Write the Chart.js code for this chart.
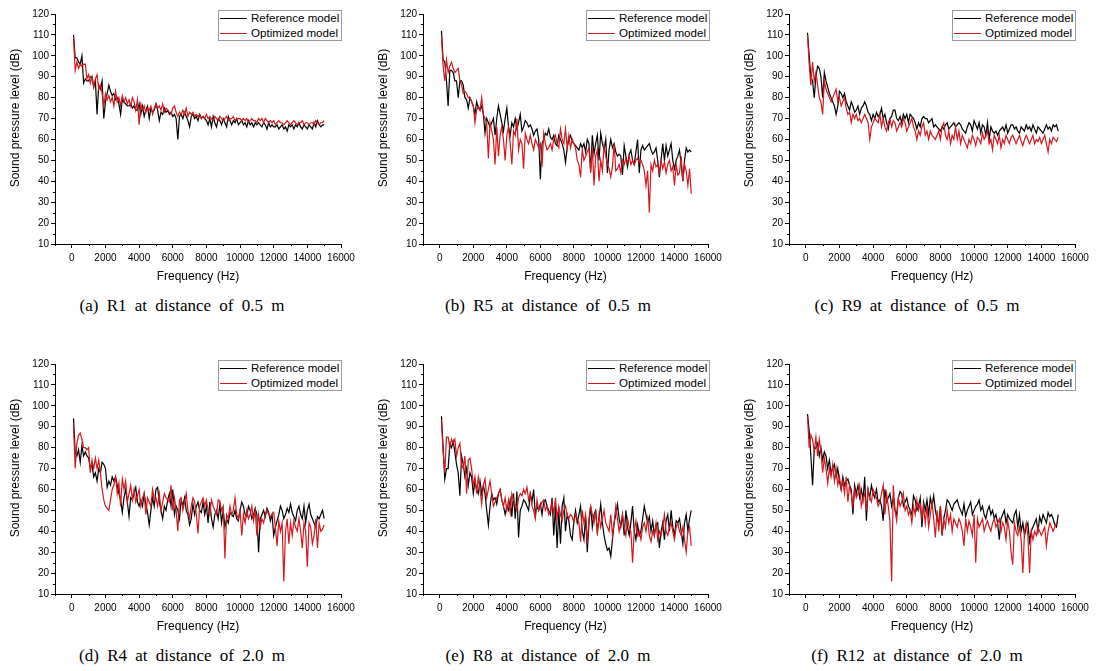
<!DOCTYPE html>
<html>
<head>
<meta charset="utf-8">
<script src="https://cdn.jsdelivr.net/npm/chart.js@4/dist/chart.umd.min.js"></script>
<style>
  html, body { margin:0; padding:0; background:#fff; width:1096px; height:671px; overflow:hidden; }
  canvas { position:absolute; }
  .legend { position:absolute; width:122px; height:29px; border:1px solid #9a9a9a; background:#fff;
            font-family:"Liberation Sans", Arial, sans-serif; font-size:11.6px; color:#000; }
  .legend .row { position:absolute; left:0; height:14px; line-height:14px; white-space:nowrap; }
  .legend .ln { position:absolute; left:1px; top:7px; width:27px; height:0; border-top:1.6px solid #000; }
  .legend .tx { position:absolute; left:32px; top:0; }
  .cap { position:absolute; width:300px; text-align:center; font-family:"Liberation Serif","Times New Roman",serif;
         font-size:17px; word-spacing:4px; color:#000; white-space:nowrap; }
  .ytitle { position:absolute; width:200px; height:14px; line-height:14px; text-align:center; white-space:nowrap;
            font-family:"Liberation Sans", Arial, sans-serif; font-size:12px; color:#000; transform:rotate(-90deg); }
</style>
</head>
<body>
<script>
// ---------- DATA ----------
const freqHz = [100,200,300,400,500,600,700,800,900,1000,1100,1200,1300,1400,1500,1600,1700,1800,1900,2000,
2100,2200,2300,2400,2500,2600,2700,2800,2900,3000,3100,3200,3300,3400,3500,3600,3700,3800,3900,4000,
4100,4200,4300,4400,4500,4600,4700,4800,4900,5000,5100,5200,5300,5400,5500,5600,5700,5800,5900,6000,
6100,6200,6300,6400,6500,6600,6700,6800,6900,7000,7100,7200,7300,7400,7500,7600,7700,7800,7900,8000,
8100,8200,8300,8400,8500,8600,8700,8800,8900,9000,9100,9200,9300,9400,9500,9600,9700,9800,9900,10000,
10100,10200,10300,10400,10500,10600,10700,10800,10900,11000,11100,11200,11300,11400,11500,11600,11700,11800,11900,12000,
12100,12200,12300,12400,12500,12600,12700,12800,12900,13000,13100,13200,13300,13400,13500,13600,13700,13800,13900,14000,
14100,14200,14300,14400,14500,14600,14700,14800,14900,15000];

const xTickLabels = [0,2000,4000,6000,8000,10000,12000,14000,16000];
const seriesNames = ["Reference model","Optimized model"];
const xTitle = "Frequency (Hz)";
const yTitle = "Sound pressure level (dB)";
const captions = ["(a) R1 at distance of 0.5 m","(b) R5 at distance of 0.5 m","(c) R9 at distance of 0.5 m",
                  "(d) R4 at distance of 2.0 m","(e) R8 at distance of 2.0 m","(f) R12 at distance of 2.0 m"];

// (a) R1, 0.5 m
const r1Ref = [110,99,99,97,96,100,87,89,88,88, 90,90,85,88,72,86,84,88,70,78,
  82,86,83,81,82,79,80,77,72,79, 78,77,76,76,77,75,76,74,74,77, 72,76,71,74,76,70,75,73,74,77,
  74,69,73,72,75,73,74,72,73,71, 72,70,60,71,72,70,73,71,69,66, 71,72,70,71,69,72,70,71,70,69,
  67,70,66,71,68,66,70,69,67,70, 68,66,71,69,67,69,68,70,67,68, 69,67,68,66,69,67,68,66,68,67,
  68,67,66,68,67,65,68,66,67,66, 66,67,65,66,67,65,66,64,67,66, 67,65,67,66,68,66,65,67,66,65,
  67,66,65,68,66,69,67,66,67,67];
const r1Opt = [109,93,97,94,96,95,96,96,89,91, 87,90,85,89,91,84,86,82,76,82,
  79,81,78,80,76,83,78,80,76,81, 78,80,77,79,76,80,78,74,79,67, 77,74,76,73,75,74,76,72,75,77,
  75,76,74,77,73,75,74,73,72,75, 76,73,71,73,72,74,72,75,71,73, 72,73,71,72,71,72,70,71,70,72,
  70,71,70,69,71,70,69,71,70,69, 70,71,69,70,70,71,69,70,70,70, 69,70,69,70,68,69,70,69,69,68,
  70,69,70,68,70,69,68,69,68,69, 67,68,69,68,68,67,68,69,68,67, 68,69,68,67,68,68,69,67,68,68,
  67,68,68,67,69,68,67,68,68,69];

// (b) R5, 0.5 m
const r5Ref = [112,98,97,88,76,93,93,92,88,88, 80,88,88,86,80,79,75,80,78,76,
  72,78,75,74,76,72,63,70,68,66, 68,70,62,70,76,72,68,64,70,75, 66,62,68,66,70,65,68,72,64,66,
  69,68,66,67,65,62,64,65,60,41, 58,60,63,62,65,61,60,62,58,57, 62,60,58,55,49,56,60,62,59,58,
  57,56,55,58,56,58,54,60,58,45, 62,53,58,62,50,63,58,55,60,44, 55,60,56,58,54,52,53,52,43,57,
  52,47,53,55,50,48,54,60,44,55, 57,55,56,57,58,55,53,54,56,50, 42,50,58,50,57,52,55,58,50,46,
  50,52,55,48,40,50,56,54,55,54];
const r5Opt = [110,95,88,98,92,95,97,94,92,93, 94,88,86,82,83,82,80,80,78,76,
  68,74,76,74,80,72,70,68,51,68, 64,60,48,66,52,62,66,60,50,62, 66,58,48,64,62,70,55,60,58,46,
  63,60,58,62,58,55,60,58,56,58, 47,63,58,55,56,58,55,60,62,58, 56,65,60,58,65,56,62,56,60,58,
  56,50,48,42,55,50,52,54,56,44, 56,38,52,55,40,50,45,57,52,48, 46,42,47,58,45,46,48,44,50,48,
  51,49,52,48,50,48,50,51,49,50, 48,45,38,45,25,48,45,50,47,48, 44,50,46,49,44,48,50,45,47,38,
  48,43,44,52,40,48,45,38,46,34];

// (c) R9, 0.5 m
const r9Ref = [111,100,90,88,80,90,95,94,90,80, 92,88,85,82,80,78,76,72,76,83,
  82,80,82,78,76,74,78,76,73,74, 76,72,75,76,78,76,73,72,69,72, 70,73,71,72,75,70,72,68,65,70,
  71,74,74,70,69,71,68,72,70,72, 68,72,71,70,68,65,68,66,70,71, 70,70,68,69,70,66,67,66,65,64,
  66,65,67,68,65,66,67,68,66,67, 68,67,65,64,63,66,68,67,64,69, 67,65,68,63,67,66,62,68,60,66,
  64,63,64,62,64,65,66,64,67,63, 65,67,67,65,66,64,63,66,65,64, 67,65,66,64,67,65,63,66,65,64,
  63,65,67,65,66,64,67,66,67,64];
const r9Opt = [110,96,86,97,88,92,86,80,78,72, 88,84,82,80,78,80,82,84,78,80,
  76,78,80,75,72,73,68,72,70,72, 69,70,68,70,72,70,68,60,66,68, 70,69,68,72,66,70,66,64,68,70,
  66,69,68,64,66,68,66,70,68,64, 66,68,70,66,64,60,64,62,66,68, 62,64,60,64,62,61,60,62,64,60,
  66,68,62,60,64,58,62,60,66,60, 64,58,62,60,58,56,60,58,62,60, 57,61,60,58,63,60,62,64,58,60,
  55,62,60,58,62,56,60,58,62,60, 58,61,62,60,58,60,62,59,57,60, 62,60,58,60,62,58,60,59,61,58,
  60,62,58,54,60,58,61,60,59,61];

// (d) R4, 2.0 m
const r4Ref = [94,78,76,79,73,81,76,78,76,75, 70,72,66,68,64,70,68,73,72,70,
  61,64,62,66,64,66,62,58,55,49, 56,60,54,47,56,55,58,61,54,52, 55,52,58,53,49,43,50,56,52,60,
  61,54,50,46,52,50,55,58,52,60, 48,52,50,46,55,52,56,50,48,43, 46,53,48,52,54,50,49,54,48,52,
  44,54,46,42,48,50,46,53,44,50, 42,46,44,49,48,47,50,46,45,50, 54,52,48,47,52,50,46,48,51,48,
  30,46,48,50,47,51,49,45,48,38, 42,45,48,52,50,46,48,51,49,53, 49,47,45,50,52,48,46,52,44,50,
  53,48,46,44,42,47,46,48,50,46];
const r4Opt = [91,70,82,86,87,84,80,80,79,80, 68,74,70,75,70,74,68,60,55,52,
  51,50,55,60,62,66,58,63,52,65, 60,64,54,58,62,55,60,54,57,60, 52,56,58,48,56,54,52,60,55,56,
  52,58,50,54,58,56,55,54,62,50, 56,50,40,55,56,50,54,58,50,46, 52,56,54,48,39,52,54,56,52,55,
  50,48,55,52,50,48,55,54,50,52, 27,48,46,52,48,50,56,48,46,50, 38,48,44,50,46,48,52,45,50,38,
  48,42,46,44,48,50,48,47,48,49, 42,33,45,40,44,16,40,46,34,44, 38,45,42,40,46,40,32,44,40,23,
  44,42,34,38,46,32,44,40,41,43];

// (e) R8, 2.0 m
const r8Ref = [95,80,65,70,70,82,80,83,78,72, 68,57,76,72,66,70,62,68,66,58,
  64,60,58,64,58,62,58,50,43,52, 58,55,56,53,58,60,55,52,48,52, 50,55,47,58,46,59,37,50,52,55,
  54,52,50,58,54,60,48,52,50,53, 48,54,55,52,50,48,56,38,52,32, 50,34,52,56,40,48,45,38,36,45,
  50,44,48,52,40,36,47,30,44,52, 42,48,50,40,46,53,44,38,34,31, 32,28,36,44,48,53,46,42,48,38,
  50,42,38,44,52,40,36,43,38,40, 46,52,48,44,47,40,45,38,43,44, 32,40,44,36,45,48,40,50,42,38,
  45,44,46,40,34,44,48,40,46,50];
const r8Opt = [93,78,68,85,85,80,84,82,84,76, 80,82,72,70,76,58,74,75,70,62,
  66,58,66,60,53,62,65,56,60,64, 58,52,54,56,58,60,55,52,56,50, 55,49,58,55,52,50,56,58,57,60,
  58,61,55,58,52,50,46,55,50,52, 54,55,50,52,48,50,54,48,56,46, 52,48,45,50,52,48,46,48,47,44,
  48,46,44,35,50,44,48,34,46,52, 48,44,50,38,48,42,46,50,44,42, 40,48,38,44,52,46,40,44,48,42,
  38,46,42,40,25,40,45,38,40,36, 42,44,40,46,38,35,40,38,44,36, 40,38,42,48,40,38,42,44,40,36,
  42,44,40,38,42,36,30,40,42,33];

// (f) R12, 2.0 m
const r12Ref = [96,88,76,62,79,80,82,76,80,74, 78,76,70,74,68,70,72,66,70,64,
  60,66,62,64,65,62,60,48,62,58, 62,56,60,55,66,45,60,56,62,58, 56,60,54,55,52,45,60,54,56,58,
  52,56,50,48,56,59,58,52,54,56, 52,50,48,57,55,50,52,56,42,54, 50,55,48,56,52,57,50,46,44,52,
  38,46,50,55,54,52,50,53,54,55, 52,50,48,53,47,50,52,54,48,50, 52,53,55,50,52,48,46,50,52,48,
  50,46,48,44,36,46,48,50,44,48, 46,45,44,48,50,42,48,40,44,38, 42,44,35,40,42,44,46,40,47,44,
  48,46,44,49,47,48,46,43,42,48];
const r12Opt = [95,80,86,84,78,85,76,84,78,68, 75,70,63,70,66,72,64,70,62,66,
  60,64,58,66,54,62,58,52,60,56, 58,62,52,56,58,50,60,56,54,60, 58,56,52,54,58,62,48,58,52,45,
  16,62,50,45,56,52,54,58,50,52, 48,50,44,52,48,55,50,53,46,52, 44,52,42,48,54,46,37,50,40,52,
  38,46,42,50,44,48,40,46,44,42, 46,44,40,33,46,40,45,42,38,48, 25,46,42,44,46,40,43,45,42,40,
  44,46,42,44,46,40,44,42,36,45, 40,30,24,44,40,38,42,36,20,40, 44,38,20,40,36,40,38,42,40,38,
  40,42,33,40,44,42,40,42,44,44];

const panelSeries = [[r1Ref,r1Opt],[r5Ref,r5Opt],[r9Ref,r9Opt],[r4Ref,r4Opt],[r8Ref,r8Opt],[r12Ref,r12Opt]];

// ---------- LAYOUT ----------
const colors = ["#000000", "#d4181e"];
const plotLeft = [55, 423, 789];            // y-axis line x
const plotWidth = [286, 285, 286];
const plotTop = [14, 364];
const plotHeight = 230;
const yAxisW = 55, xAxisH = 40, padTop = 10, padRight = 22;
const capCenterX = [182, 548, 917];
const capY = [296, 646];

const minorTicks = {
  id: 'minorTicks',
  afterDraw(chart) {
    const ctx = chart.ctx, xs = chart.scales.x, ys = chart.scales.y;
    ctx.save();
    ctx.strokeStyle = '#000'; ctx.lineWidth = 1;
    ctx.beginPath();
    for (let v = -1000; v <= 15000; v += 2000) {
      const px = Math.round(xs.getPixelForValue(v)) + 0.5;
      ctx.moveTo(px, xs.top); ctx.lineTo(px, xs.top + 2);
    }
    for (let v = 15; v <= 115; v += 10) {
      const py = Math.round(ys.getPixelForValue(v)) + 0.5;
      ctx.moveTo(ys.right - 2, py); ctx.lineTo(ys.right, py);
    }
    ctx.stroke();
    ctx.restore();
  }
};

const tickFont = { family: "'Liberation Sans', Arial, sans-serif", size: 10 };
const titleFont = { family: "'Liberation Sans', Arial, sans-serif", size: 12 };

panelSeries.forEach((pair, p) => {
  const col = p % 3, row = Math.floor(p / 3);
  const cv = document.createElement('canvas');
  const W = yAxisW + plotWidth[col] + padRight;
  const H = padTop + plotHeight + xAxisH;
  cv.width = W; cv.height = H;
  cv.style.left = (plotLeft[col] - yAxisW) + 'px';
  cv.style.top = (plotTop[row] - padTop) + 'px';
  cv.style.width = W + 'px'; cv.style.height = H + 'px';
  document.body.appendChild(cv);

  const datasets = pair.map((vals, s) => ({
    label: seriesNames[s],
    data: freqHz.map((f, i) => ({ x: f, y: vals[i] })),
    borderColor: colors[s],
    borderWidth: 1.2,
    pointRadius: 0,
    tension: 0,
    fill: false,
    order: s === 1 ? 0 : 1
  }));

  new Chart(cv, {
    type: 'line',
    data: { datasets },
    plugins: [minorTicks],
    options: {
      responsive: false,
      animation: false,
      devicePixelRatio: 1,
      layout: { padding: { top: padTop, right: padRight, left: 0, bottom: 0 } },
      plugins: { legend: { display: false }, tooltip: { enabled: false } },
      scales: {
        x: {
          type: 'linear', min: -1000, max: 16000,
          afterBuildTicks: s => { s.ticks = xTickLabels.map(v => ({ value: v })); },
          afterFit: s => { s.height = xAxisH; },
          grid: { drawOnChartArea: false, drawTicks: true, tickLength: 4, color: '#000' },
          border: { display: true, color: '#000', width: 1 },
          ticks: { font: tickFont, color: '#000', padding: 4, maxRotation: 0, autoSkip: false,
                   callback: v => String(v) },
          title: { display: true, text: xTitle, font: titleFont, color: '#000', padding: { top: 2, bottom: 0 } }
        },
        y: {
          type: 'linear', min: 10, max: 120,
          afterFit: s => { s.width = yAxisW; },
          grid: { drawOnChartArea: false, drawTicks: true, tickLength: 4, color: '#000' },
          border: { display: true, color: '#000', width: 1 },
          ticks: { stepSize: 10, font: tickFont, color: '#000', padding: 2, callback: v => String(v) },
          title: { display: false }
        }
      }
    }
  });

  // y-axis title
  const yt = document.createElement('div');
  yt.className = 'ytitle';
  yt.textContent = yTitle;
  yt.style.left = (plotLeft[col] - 40 - 100) + 'px';
  yt.style.top = (plotTop[row] + 104 - 7) + 'px';
  document.body.appendChild(yt);

  // legend
  const lg = document.createElement('div');
  lg.className = 'legend';
  lg.style.left = (plotLeft[col] + 163) + 'px';
  lg.style.top = (plotTop[row] - 4) + 'px';
  seriesNames.forEach((nm, s) => {
    const r = document.createElement('div');
    r.className = 'row';
    r.style.top = (s === 0 ? 0 : 15) + 'px';
    r.style.width = '122px';
    const ln = document.createElement('div'); ln.className = 'ln'; ln.style.borderTopColor = colors[s];
    const tx = document.createElement('div'); tx.className = 'tx'; tx.textContent = nm;
    r.appendChild(ln); r.appendChild(tx); lg.appendChild(r);
  });
  document.body.appendChild(lg);

  // caption
  const cp = document.createElement('div');
  cp.className = 'cap';
  cp.textContent = captions[p];
  cp.style.left = (capCenterX[col] - 150) + 'px';
  cp.style.top = capY[row] + 'px';
  document.body.appendChild(cp);
});
</script>
</body>
</html>
